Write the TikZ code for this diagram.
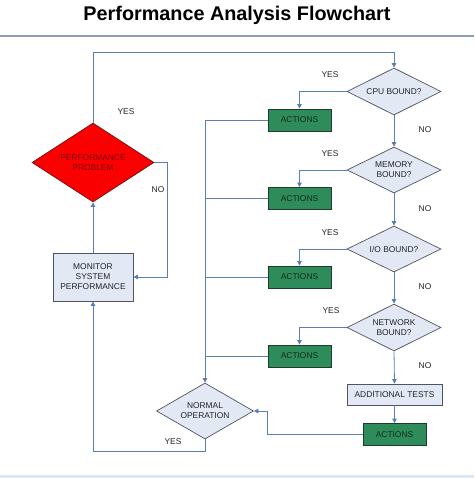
\documentclass[tikz,border=0pt]{standalone}
\usepackage{fontspec}
\setmainfont{Liberation Sans}
\usetikzlibrary{arrows.meta,shapes.geometric}
\definecolor{lineblue}{RGB}{92,126,182}
\definecolor{diafill}{RGB}{227,233,244}
\definecolor{diaborder}{RGB}{80,84,96}
\definecolor{actfill}{RGB}{46,139,90}
\definecolor{actborder}{RGB}{30,60,42}
\definecolor{actext}{RGB}{20,45,28}
\definecolor{probred}{RGB}{250,0,0}
\definecolor{probborder}{RGB}{110,20,20}
\definecolor{probtext}{RGB}{130,10,10}
\definecolor{sepline}{RGB}{140,158,184}
\definecolor{bandblue}{RGB}{221,232,243}
\definecolor{txtgray}{RGB}{35,35,40}
\begin{document}
\begin{tikzpicture}[x=1pt,y=-1pt,
  conn/.style={draw=lineblue, line width=0.8pt},
  arr/.style={conn, -{Triangle[width=4.5pt,length=4.5pt]}},
  dec/.style={diamond, draw=diaborder, fill=diafill, line width=0.7pt, inner sep=0pt,
    font=\fontsize{8.4}{10}\selectfont, text=txtgray, align=center},
  actbox/.style={rectangle, draw=actborder, fill=actfill, line width=0.8pt,
    minimum width=63pt, minimum height=22pt, inner sep=0pt,
    font=\fontsize{8.4}{10}\selectfont, text=actext},
  procbox/.style={rectangle, draw=diaborder, fill=diafill, line width=0.8pt, inner sep=0pt,
    font=\fontsize{8.4}{10}\selectfont, text=txtgray, align=center},
  lbl/.style={font=\fontsize{8.4}{10}\selectfont, text=txtgray, inner sep=0pt}
]
\useasboundingbox (0,0) rectangle (474,478);
\fill[white] (0,0) rectangle (474,478);
% title
\node[font=\bfseries\fontsize{19.8}{22}\selectfont, inner sep=0pt] (title) at (237,15) {Performance Analysis Flowchart};
\draw[sepline, line width=1.4pt] (0,36) -- (474,36);
\fill[bandblue] (0,475) rectangle (474,478);

% left column
\node[diamond, draw=probborder, fill=probred, line width=0.7pt, inner sep=0pt,
  aspect=1.54, minimum width=122pt, minimum height=79pt,
  font=\fontsize{8.4}{10}\selectfont, text=probtext, align=center] (prob) at (93,162.5) {PERFORMANCE\\PROBLEM};
\node[procbox, minimum width=80pt, minimum height=48pt] (mon) at (93,277) {MONITOR\\SYSTEM\\PERFORMANCE};

% right column decisions
\node[dec, aspect=2, minimum width=94pt, minimum height=47pt] (cpu) at (394,91.5) {CPU BOUND?};
\node[dec, aspect=2, minimum width=94pt, minimum height=46pt] (mem) at (394,170) {MEMORY\\BOUND?};
\node[dec, aspect=2, minimum width=94pt, minimum height=46pt] (io) at (394,249) {I/O BOUND?};
\node[dec, aspect=2, minimum width=94pt, minimum height=47pt] (net) at (394,327.5) {NETWORK\\BOUND?};
\node[procbox, minimum width=95pt, minimum height=21pt] (add) at (394.5,394.5) {ADDITIONAL TESTS};
\node[actbox] (a5) at (394.5,434.5) {ACTIONS};

% actions column
\node[actbox] (a1) at (299.5,120) {ACTIONS};
\node[actbox] (a2) at (299.5,198.5) {ACTIONS};
\node[actbox] (a3) at (299.5,277) {ACTIONS};
\node[actbox] (a4) at (299.5,356) {ACTIONS};

% normal operation
\node[dec, aspect=1.73, minimum width=97pt, minimum height=56pt] (norm) at (205,411) {NORMAL\\OPERATION};

% coordinates
\coordinate (top) at (93,52);
\coordinate (bus) at (205,120);

% connectors
\draw[arr] (prob.north) |- (top) -| (cpu.north);
\draw[arr] (prob.east) -- (167,162.5) |- (mon.east);
\draw[arr] (mon.north) -- (prob.south);
\draw[arr] (norm.south) -- (205,451) -| (mon.south);

\draw[arr] (cpu.south) -- (mem.north);
\draw[arr] (mem.south) -- (io.north);
\draw[arr] (io.south) -- (net.north);
\draw[arr] (net.south) -- (add.north);
\draw[arr] (add.south) -- (a5.north);

\draw[arr] (cpu.west) -| (a1.north);
\draw[arr] (mem.west) -| (a2.north);
\draw[arr] (io.west) -| (a3.north);
\draw[arr] (net.west) -| (a4.north);

\draw[conn] (a1.west) -- (bus);
\draw[conn] (a2.west) -- (205,198.5);
\draw[conn] (a3.west) -- (205,277);
\draw[conn] (a4.west) -- (205,356);
\draw[arr] (bus) -- (norm.north);
\draw[arr] (a5.west) -- (267,434.5) |- (norm.east);

% labels
\node[lbl] (y0) at (126,112) {YES};
\node[lbl] (n0) at (158,190) {NO};
\node[lbl] (y5) at (173,442) {YES};
\node[lbl] (y1) at (330,75) {YES};
\node[lbl] (y2) at (330,154) {YES};
\node[lbl] (y3) at (330,233) {YES};
\node[lbl] (y4) at (331,311) {YES};
\node[lbl] (n1) at (425,130) {NO};
\node[lbl] (n2) at (425,208.5) {NO};
\node[lbl] (n3) at (425,287) {NO};
\node[lbl] (n4) at (425,366) {NO};
\end{tikzpicture}
\end{document}
